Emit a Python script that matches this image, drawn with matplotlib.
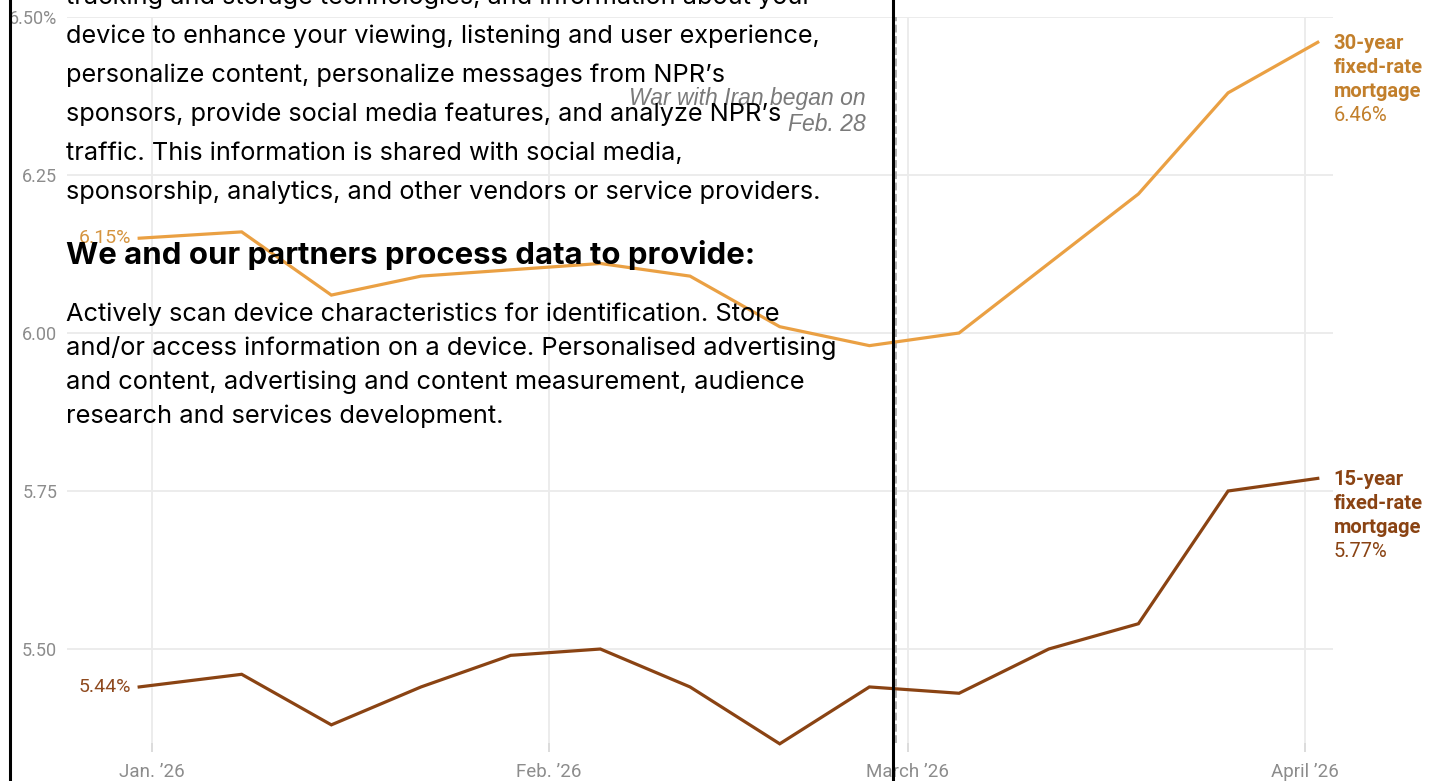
import matplotlib
matplotlib.use("Agg")
import matplotlib.pyplot as plt
from matplotlib.lines import Line2D
import pandas as pd

# Weekly mortgage rates (Freddie Mac style), in percent
dates = pd.to_datetime([
    "2025-12-31", "2026-01-08", "2026-01-15", "2026-01-22", "2026-01-29",
    "2026-02-05", "2026-02-12", "2026-02-19", "2026-02-26", "2026-03-05",
    "2026-03-12", "2026-03-19", "2026-03-26", "2026-04-02",
])
rate_30yr = [6.15, 6.16, 6.06, 6.09, 6.10, 6.11, 6.09, 6.01, 5.98, 6.00, 6.11, 6.22, 6.38, 6.46]
rate_15yr = [5.44, 5.46, 5.38, 5.44, 5.49, 5.50, 5.44, 5.35, 5.44, 5.43, 5.50, 5.54, 5.75, 5.77]

y_ticks = [5.50, 5.75, 6.00, 6.25, 6.50]
y_tick_labels = ["5.50", "5.75", "6.00", "6.25", "6.50%"]
x_ticks = pd.to_datetime(["2026-01-01", "2026-02-01", "2026-03-01", "2026-04-01"])
x_tick_labels = ["Jan. ’26", "Feb. ’26", "March ’26", "April ’26"]
war_date = pd.Timestamp("2026-02-28")

# cookie banner text laid over the chart
notice_lines = [
    "tracking and storage technologies, and information about your",
    "device to enhance your viewing, listening and user experience,",
    "personalize content, personalize messages from NPR’s",
    "sponsors, provide social media features, and analyze NPR’s",
    "traffic. This information is shared with social media,",
    "sponsorship, analytics, and other vendors or service providers.",
]
notice_heading = "We and our partners process data to provide:"
purpose_lines = [
    "Actively scan device characteristics for identification. Store",
    "and/or access information on a device. Personalised advertising",
    "and content, advertising and content measurement, audience",
    "research and services development.",
]

c30 = "#eaa043"
c30_text = "#c27f2b"
c15 = "#8a4313"
grey = "#8c8c8c"
chart_font = ["Roboto", "DejaVu Sans"]

W, H = 1445, 781
fig = plt.figure(figsize=(W / 100, H / 100), dpi=100, facecolor="white")
ax = fig.add_axes([67 / W, (H - 743) / H, 1266 / W, 726 / H])

ax.plot(dates, rate_30yr, color=c30, lw=2.3, clip_on=False, zorder=3, solid_joinstyle="miter")
ax.plot(dates, rate_15yr, color=c15, lw=2.3, clip_on=False, zorder=3, solid_joinstyle="miter")

ax.set_xlim(pd.Timestamp("2026-01-01") - pd.Timedelta(days=6.635),
            pd.Timestamp("2026-04-01") + pd.Timedelta(days=2.19))
ax.set_ylim(5.3513, 6.50)

ax.set_yticks(y_ticks)
ax.set_yticklabels(y_tick_labels, family=chart_font, fontsize=13, color=grey)
ax.set_xticks(x_ticks)
ax.set_xticklabels(x_tick_labels, family=chart_font, fontsize=13.5, color=grey)
ax.tick_params(axis="y", length=0, pad=7)
ax.tick_params(axis="x", length=6.5, width=1.2, color="#d6d6d6", pad=8)
ax.grid(True, color="#ebebeb", lw=1.3)
ax.set_axisbelow(True)
for s in ax.spines.values():
    s.set_visible(False)

# war marker
ax.axvline(war_date, color="#b0b0b0", lw=2.8, ls=(0, (2.0, 0.9)), zorder=2)
ax.text(war_date - pd.Timedelta(days=2.3), 6.350, "War with Iran began on\nFeb. 28",
        ha="right", va="center", style="italic", fontsize=16.5, color="#7a7a7a",
        family=["Liberation Sans", "DejaVu Sans"], linespacing=1.15)

# start labels
ax.annotate(f"{rate_30yr[0]:.2f}%", (dates[0], rate_30yr[0]), xytext=(-8, 0),
            textcoords="offset pixels", ha="right", va="center", fontsize=14,
            color="#d5943f", family=chart_font)
ax.annotate(f"{rate_15yr[0]:.2f}%", (dates[0], rate_15yr[0]), xytext=(-8, 0),
            textcoords="offset pixels", ha="right", va="center", fontsize=14,
            color="#8f4a1f", family=chart_font)

# end labels
for vals, name, col in [(rate_30yr, "30-year", c30_text), (rate_15yr, "15-year", c15)]:
    lines = [name, "fixed-rate", "mortgage", f"{vals[-1]:.2f}%"]
    for k, txt in enumerate(lines):
        ax.annotate(txt, (dates[-1], vals[-1]), xytext=(16, -1 - 24 * k),
                    textcoords="offset pixels", ha="left", va="center", fontsize=14.5,
                    fontweight="bold" if k < 3 else "normal", color=col, family=chart_font)

# overlay banner: border lines and text
fig.add_artist(Line2D([9.5 / W, 9.5 / W], [0, 1], color="black", lw=2.2))
fig.add_artist(Line2D([893 / W, 893 / W], [0, 1], color="black", lw=2.2))
overlay_font = ["Inter", "DejaVu Sans"]
for i, line in enumerate(notice_lines):
    fig.text(66 / W, 1 - (4 + 39 * i) / H, line, ha="left", va="baseline",
             fontsize=18.2, color="black", family=overlay_font)
fig.text(66 / W, 1 - 264 / H, notice_heading, ha="left", va="baseline",
         fontsize=22.4, fontweight="bold", color="black", family=overlay_font)
for i, line in enumerate(purpose_lines):
    fig.text(66 / W, 1 - (321 + 34 * i) / H, line, ha="left", va="baseline",
             fontsize=18.3, color="black", family=overlay_font)

fig.savefig("out.png", dpi=100, facecolor="white")
